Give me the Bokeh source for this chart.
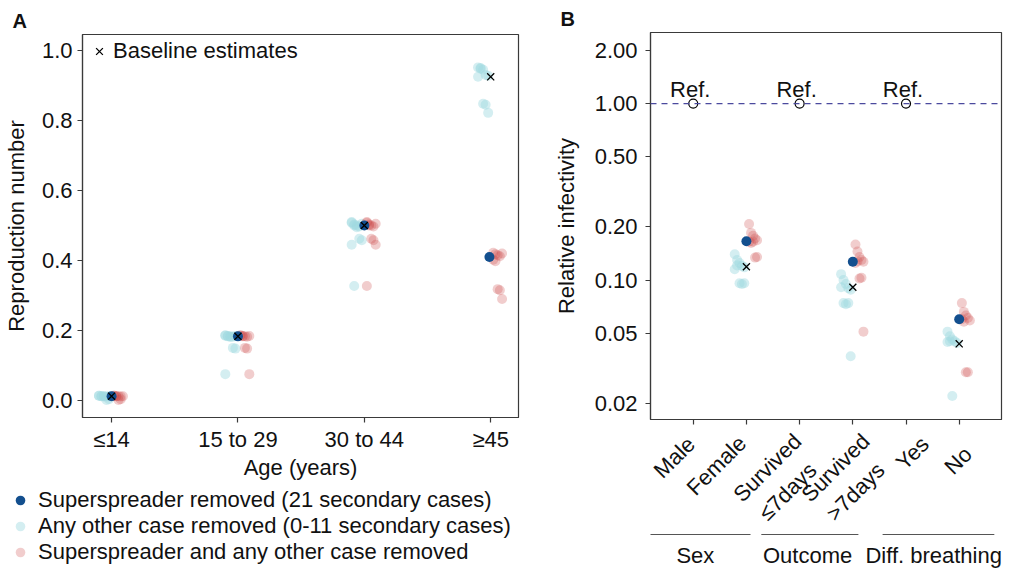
from math import pi
from bokeh.plotting import figure
from bokeh.layouts import row, column
from bokeh.models import (Range1d, FixedTicker, PrintfTickFormatter, Legend, LegendItem,
                          Span, ColumnDataSource)
from bokeh.core.properties import value
from bokeh.embed import file_html
from bokeh.resources import INLINE

FONT = "Liberation Sans"
FS = "22px"

# ---------------- Panel A data ----------------
age_groups = ["≤14", "15 to 29", "30 to 44", "≥45"]
baseline_R = [0.012, 0.183, 0.500, 0.925]
superspreader_R = [0.012, 0.183, 0.500, 0.410]

other_removed_le14 = [0.013, 0.012, 0.012, 0.011, 0.012, 0.013, 0.012, 0.011, 0.001, 0.003]
other_removed_15_29 = [0.186, 0.184, 0.183, 0.182, 0.184, 0.185, 0.183, 0.181, 0.150, 0.148, 0.075]
other_removed_30_44 = [0.508, 0.503, 0.500, 0.497, 0.505, 0.510, 0.500, 0.495, 0.462, 0.458, 0.445, 0.327]
other_removed_ge45 = [0.952, 0.948, 0.945, 0.930, 0.928, 0.925, 0.950, 0.848, 0.845, 0.822]

both_removed_le14 = [0.013, 0.012, 0.012, 0.011, 0.012, 0.013, 0.012, 0.001, 0.003]
both_removed_15_29 = [0.186, 0.184, 0.183, 0.182, 0.184, 0.185, 0.183, 0.150, 0.148, 0.075]
both_removed_30_44 = [0.508, 0.503, 0.500, 0.497, 0.505, 0.510, 0.500, 0.462, 0.458, 0.445, 0.327]
both_removed_ge45 = [0.422, 0.418, 0.415, 0.412, 0.420, 0.402, 0.398, 0.318, 0.315, 0.290]

legend_labels_A = ["Superspreader removed (21 secondary cases)",
                   "Any other case removed (0-11 secondary cases)",
                   "Superspreader and any other case removed"]

# ---------------- Panel B data ----------------
factors_B = ["Male", "Female", "Survived\n≤7days", "Survived\n>7days", "Yes", "No"]
ref_positions = [1, 3, 5]
ref_values = [1.0, 1.0, 1.0]
est_positions = [2, 4, 6]
baseline_B = [0.119, 0.091, 0.0435]
superspreader_B = [0.166, 0.127, 0.060]

other_removed_female = [0.140, 0.130, 0.125, 0.120, 0.118, 0.115, 0.121, 0.096, 0.095, 0.096]
other_removed_surv7 = [0.108, 0.100, 0.095, 0.090, 0.088, 0.091, 0.074, 0.073, 0.074, 0.037]
other_removed_no = [0.051, 0.048, 0.046, 0.045, 0.044, 0.0445, 0.045, 0.022]

both_removed_female = [0.208, 0.185, 0.178, 0.172, 0.168, 0.165, 0.162, 0.165, 0.134, 0.135]
both_removed_surv7 = [0.159, 0.145, 0.135, 0.130, 0.127, 0.125, 0.128, 0.102, 0.103, 0.051]
both_removed_no = [0.074, 0.066, 0.063, 0.061, 0.059, 0.060, 0.058, 0.030, 0.030]

group_names = ["Sex", "Outcome", "Diff. breathing"]
group_line_start = [0.085, 2.28, 4.56]
group_line_end = [2.077, 4.105, 6.66]
group_label_x = [1.04, 3.15, 5.52]

# tick-label placement under panel B (pixel nudges of the rotated labels)
tick_label_dx = [-2, -4, -2, 13, 19, 9]
tick_label_dy = [14, 13, 11, 11, 14, 24]
second_line_shift = (15, 29)

# ---------------- colours ----------------
C_BLUE = "#134f8e"
C_CYAN = "#a0d9e0"
C_RED = "#cc4a4a"
LINE = "#3a3a3a"
TXT = "#111111"


def jitter(center, vals, lo, hi, n=5):
    return [center + lo + (hi - lo) * (i % n) / (n - 1) for i in range(len(vals))]


def style(p):
    p.xgrid.visible = False
    p.ygrid.visible = False
    p.outline_line_color = LINE
    p.outline_line_width = 1.2
    p.background_fill_color = "white"
    p.border_fill_color = "white"
    for ax in p.axis:
        ax.axis_line_color = LINE
        ax.axis_line_width = 1.2
        ax.major_tick_line_color = LINE
        ax.major_tick_line_width = 1.2
        ax.major_tick_out = 5
        ax.major_tick_in = 0
        ax.minor_tick_line_color = None
        ax.major_label_text_font = FONT
        ax.major_label_text_font_size = FS
        ax.major_label_text_color = TXT
        ax.axis_label_text_font = FONT
        ax.axis_label_text_font_size = FS
        ax.axis_label_text_font_style = "normal"
        ax.axis_label_text_color = TXT


def blank(p):
    p.xgrid.visible = False
    p.ygrid.visible = False
    p.outline_line_color = None
    p.background_fill_color = "white"
    p.border_fill_color = "white"


def panel_title(p, letter, offset):
    p.title.text = letter
    p.title.align = "left"
    p.title.offset = offset
    p.title.standoff = 5
    p.title.text_font = FONT
    p.title.text_font_size = "20px"
    p.title.text_font_style = "bold"
    p.title.text_color = TXT


# ================= Panel A =================
pA = figure(width=530, height=482, x_range=Range1d(0.77, 4.22), y_range=Range1d(-0.049, 1.046),
            output_backend="svg", toolbar_location=None, title="A",
            min_border_left=81, min_border_right=12, min_border_top=34, min_border_bottom=65)
style(pA)
panel_title(pA, "A", -70)
pA.xaxis.ticker = FixedTicker(ticks=[1, 2, 3, 4])
pA.xaxis.major_label_overrides = {i + 1: g for i, g in enumerate(age_groups)}
pA.yaxis.ticker = FixedTicker(ticks=[0.0, 0.2, 0.4, 0.6, 0.8, 1.0])
pA.yaxis.formatter = PrintfTickFormatter(format="%.1f")
pA.xaxis.axis_label = "Age (years)"
pA.yaxis.axis_label = "Reproduction number"
pA.xaxis.major_label_standoff = 4
pA.xaxis.axis_label_standoff = 0
pA.yaxis.major_label_standoff = 5
pA.yaxis.axis_label_standoff = 10

other_A = [other_removed_le14, other_removed_15_29, other_removed_30_44, other_removed_ge45]
both_A = [both_removed_le14, both_removed_15_29, both_removed_30_44, both_removed_ge45]
cx, cy, rx, ry = [], [], [], []
for g, (o, b) in enumerate(zip(other_A, both_A)):
    cx += jitter(g + 1, o, -0.10, -0.02)
    cy += o
    rx += jitter(g + 1, b, 0.02, 0.09)
    ry += b
pos_A = [1, 2, 3, 4]
ss_x = [p - (0.01 if s != b else 0) for p, s, b in zip(pos_A, superspreader_R, baseline_R)]

pA.scatter(cx, cy, size=10, fill_color=C_CYAN, fill_alpha=0.45, line_color=None)
pA.scatter(rx, ry, size=10, fill_color=C_RED, fill_alpha=0.28, line_color=None)
pA.scatter(ss_x, superspreader_R, size=10, fill_color=C_BLUE, line_color=None)
rA_x = pA.scatter(pos_A, baseline_R, marker="x", size=10, line_color="black", line_width=1.3)

legX = Legend(items=[LegendItem(label="Baseline estimates", renderers=[rA_x])],
              location=(5, 353), padding=0, margin=0, spacing=0,
              glyph_width=24, glyph_height=24, label_height=24, label_standoff=2,
              label_text_font=FONT, label_text_font_size=FS, label_text_color=TXT,
              background_fill_alpha=0, border_line_color=None)
pA.add_layout(legX)

# legend strip below panel A
pL = figure(width=530, height=92, x_range=Range1d(0, 530), y_range=Range1d(92, 0),
            output_backend="svg", toolbar_location=None, x_axis_location=None, y_axis_location=None,
            min_border_left=0, min_border_right=0, min_border_top=0, min_border_bottom=0)
pL.frame_align = False
blank(pL)
lg_blue = pL.scatter([-100], [-100], size=10, fill_color=C_BLUE, line_color=None)
lg_cyan = pL.scatter([-100], [-100], size=10, fill_color=C_CYAN, fill_alpha=0.45, line_color=None)
lg_red = pL.scatter([-100], [-100], size=10, fill_color=C_RED, fill_alpha=0.28, line_color=None)
legC = Legend(items=[LegendItem(label=lab, renderers=[r])
                     for lab, r in zip(legend_labels_A, [lg_blue, lg_cyan, lg_red])],
              location=(8, 9), padding=0, margin=0, spacing=-2,
              glyph_width=24, glyph_height=24, label_height=24, label_standoff=6,
              label_text_font=FONT, label_text_font_size=FS, label_text_color=TXT,
              background_fill_alpha=0, border_line_color=None)
pL.add_layout(legC)

# ================= Panel B =================
pB = figure(width=480, height=426, x_range=Range1d(0.197, 6.795), y_range=Range1d(0.0162, 2.53),
            y_axis_type="log", output_backend="svg", toolbar_location=None, title="B",
            min_border_left=120, min_border_right=9, min_border_top=32, min_border_bottom=7)
style(pB)
panel_title(pB, "B", -90)
pB.xaxis.ticker = FixedTicker(ticks=[1, 2, 3, 4, 5, 6])
pB.xaxis.major_label_overrides = {i + 1: "" for i in range(len(factors_B))}
pB.xaxis.major_label_text_font_size = "1px"
pB.xaxis.major_label_standoff = 0
pB.yaxis.ticker = FixedTicker(ticks=[0.02, 0.05, 0.1, 0.2, 0.5, 1.0, 2.0])
pB.yaxis.formatter = PrintfTickFormatter(format="%.2f")
pB.yaxis.axis_label = "Relative infectivity"
pB.yaxis.major_label_standoff = 8
pB.yaxis.axis_label_standoff = 13

pB.add_layout(Span(location=1.0, dimension="width", line_color="#4b4a9e", line_width=1.3,
                   line_dash="6 5"))

other_B = [other_removed_female, other_removed_surv7, other_removed_no]
both_B = [both_removed_female, both_removed_surv7, both_removed_no]
bcx, bcy, brx, bry = [], [], [], []
for pos, o, b in zip(est_positions, other_B, both_B):
    bcx += jitter(pos, o, -0.22, -0.04)
    bcy += o
    brx += jitter(pos, b, 0.05, 0.20)
    bry += b

pB.scatter(bcx, bcy, size=10, fill_color=C_CYAN, fill_alpha=0.45, line_color=None)
pB.scatter(brx, bry, size=10, fill_color=C_RED, fill_alpha=0.28, line_color=None)
pB.scatter(est_positions, superspreader_B, size=10, fill_color=C_BLUE, line_color=None)
pB.scatter(est_positions, baseline_B, marker="x", size=10, line_color="black", line_width=1.3)
pB.scatter(ref_positions, ref_values, size=9, fill_color="white", line_color="black", line_width=1.2)
pB.text(ref_positions, ref_values, text=["Ref."] * len(ref_positions), text_align="center",
        text_baseline="alphabetic", x_offset=-3, y_offset=-14, text_font=value(FONT),
        text_font_size=FS, text_color=TXT)

# strip under panel B: rotated category labels + group labels
pG = figure(width=480, height=148, x_range=pB.x_range, y_range=Range1d(148, 0),
            output_backend="svg", toolbar_location=None, x_axis_location=None, y_axis_location=None,
            min_border_left=120, min_border_right=9, min_border_top=0, min_border_bottom=0)
blank(pG)

tx, ty, txo, tyo, tt = [], [], [], [], []
for i, f in enumerate(factors_B):
    lines = f.split("\n")
    for k, ln in enumerate(lines):
        tx.append(i + 1)
        ty.append(tick_label_dy[i])
        txo.append(tick_label_dx[i] + k * second_line_shift[0])
        tyo.append(k * second_line_shift[1])
        tt.append(ln)
tsrc = ColumnDataSource(dict(x=tx, y=ty, xo=txo, yo=tyo, t=tt))
pG.text(x="x", y="y", text="t", x_offset="xo", y_offset="yo", source=tsrc, angle=pi / 4,
        text_align="right", text_baseline="middle", text_font=value(FONT), text_font_size=FS,
        text_color=TXT)

gsrc = ColumnDataSource(dict(x0=group_line_start, x1=group_line_end, y=[108] * 3,
                             tx=group_label_x, ty=[129] * 3, name=group_names))
pG.segment(x0="x0", y0="y", x1="x1", y1="y", source=gsrc, line_color="#555555", line_width=1.2)
pG.text(x="tx", y="ty", text="name", source=gsrc, text_align="center", text_baseline="middle",
        text_font=value(FONT), text_font_size=FS, text_color=TXT)

layout = row(column(pA, pL), column(pB, pG))
open("out.html", "w").write(file_html(layout, INLINE))
